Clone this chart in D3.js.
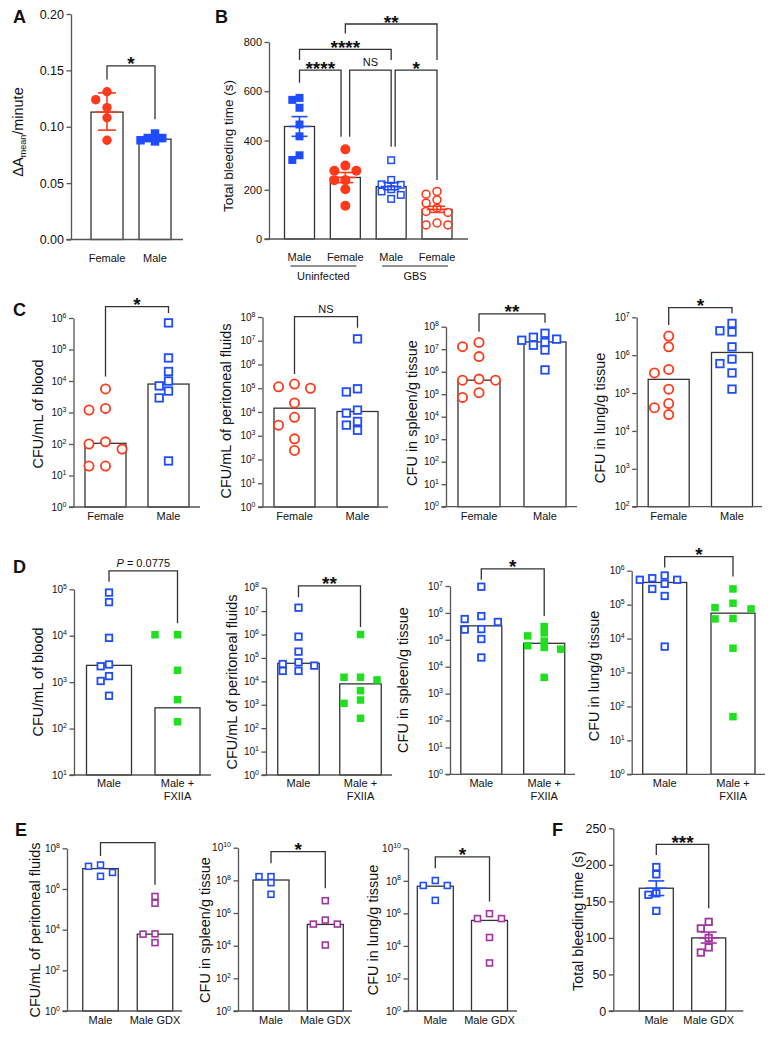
<!DOCTYPE html>
<html><head><meta charset="utf-8">
<script src="https://cdn.jsdelivr.net/npm/d3@7"></script>
<style>
body{margin:0;background:#fff}
svg{display:block}
text{font-family:"Liberation Sans",Arial,Helvetica,sans-serif;fill:#111}
</style>
</head><body>
<svg id="c" width="776" height="1037"></svg>
<script>
// ---------------- DATA ----------------
// Panel A
const catsA = ["Female","Male"];
const aFemale = [0.131,0.124,0.117,0.108,0.088];
const aMale = [0.094,0.090,0.090,0.088,0.087];
const aMean = [0.113,0.089];
const aSD = [[0.097,0.130],[0.087,0.091]];
const ticksA = [0,0.05,0.10,0.15,0.20];
// Panel B
const catsB = ["Male","Female","Male","Female"];
const groupsB = ["Uninfected","GBS"];
const bMaleUninf = [573,565,533,465,417,340,321];
const bFemaleUninf = [364,298,277,277,239,239,202,135];
const bMaleGBS = [320,240,222,220,202,193,179,163];
const bFemaleGBS = [193,182,159,146,125,112,108,65,57,57];
const bMean = [457,250,213,120];
const bSEM = [[417,497],[229,270],[200,229],[108,133]];
const ticksB = [0,200,400,600,800];
// Panel C
const catsC = ["Female","Male"];
const cBloodF = [5600,1350,1200,117,100,69,20,20];
const cBloodM = [700000,54000,20000,10000,7000,4800,2900,29];
const cBloodBar = [105,8000];
const cPeritF = [150000,115000,100000,24000,6000,2800,740,240];
const cPeritM = [12000000,95000,70000,12000,9000,4000,2800,1700];
const cPeritBar = [14500,10500];
const cSpleenF = [20000000,13000000,4700000,470000,420000,420000,117000,72000];
const cSpleenM = [51000000,34000000,28000000,25000000,20000000,15000000,9200000,1200000];
const cSpleenBar = [420000,21000000];
const cLungF = [3200000,1660000,420000,340000,127000,53000,41000,27000];
const cLungM = [6900000,4400000,4100000,1660000,790000,600000,340000,127000];
const cLungBar = [230000,1180000];
// Panel D
const catsD = ["Male","Male +|FXIIA"];
const dBloodM = [85000,53000,9000,2400,2200,1350,1060,510];
const dBloodFX = [10500,10500,1800,420,140];
const dBloodBar = [2300,280];
const dPeritM = [14000000,810000,186000,65000,55000,47000,28000,28000];
const dPeritFX = [1000000,15000,15000,11500,4000,1600,1150,265];
const dPeritBar = [59000,7800];
const dSpleenM = [9400000,760000,590000,460000,250000,240000,107000,22000];
const dSpleenFX = [310000,180000,140000,90000,60000,52000,45000,4000];
const dSpleenBar = [330000,74000];
const dLungM = [720000,600000,540000,540000,410000,290000,180000,5800];
const dLungFX = [290000,110000,82000,75000,39000,38000,5200,50];
const dLungBar = [450000,56000];
// Panel E
const catsE = ["Male","Male GDX"];
const ePeritM = [15000000,13000000,6500000,4200000];
const ePeritGDX = [430000,200000,6200,6000,2300];
const ePeritBar = [10000000,6000];
const eSpleenM = [170000000,170000000,72000000,14000000];
const eSpleenGDX = [5700000,370000,210000,210000,11000];
const eSpleenBar = [105000000,200000];
const eLungM = [105000000,52000000,52000000,6300000];
const eLungGDX = [960000,480000,480000,33000,900];
const eLungBar = [47000000,370000];
// Panel F
const catsF = ["Male","Male GDX"];
const fMale = [197,187,161,159,137];
const fGDX = [122,113,100,87,80];
const fMean = [168,100];
const fSEM = [[158,178],[93,108]];
const ticksF = [0,50,100,150,200,250];

// ---------------- STYLE ----------------
const RED="#ff3a1c", BLUE="#1f4cff", GREEN="#1fe01f", PURPLE="#a2349f";
const AXC="#555", BARC="#333";
const svg = d3.select("#c");

function swarm(vals, y, cx, vth, spacing){
  const placed=[];
  return vals.map(v=>{
    const py=y(v); let off=0;
    for(let i=0;i<30;i++){
      off = i===0?0:(i%2?-1:1)*Math.ceil(i/2)*spacing;
      if(!placed.some(p=>Math.abs(p.y-py)<vth && Math.abs(p.x-off)<spacing*0.95)) break;
    }
    placed.push({x:off,y:py});
    return {x:cx+off,y:py};
  });
}
function marker(g,m,cx,cy){
  const sw=m.sw||1.7;
  if(m.shape==="circle"){
    const r=m.fill?m.size/2:(m.size-sw)/2;
    g.append("circle").attr("cx",cx).attr("cy",cy).attr("r",r)
     .attr("fill",m.fill?m.color:"#fff").attr("stroke",m.fill?"none":m.color).attr("stroke-width",sw);
  } else {
    const s=m.fill?m.size:m.size-sw;
    g.append("rect").attr("x",cx-s/2).attr("y",cy-s/2).attr("width",s).attr("height",s)
     .attr("fill",m.fill?m.color:"#fff").attr("stroke",m.fill?"none":m.color).attr("stroke-width",sw);
  }
}

function panel(o){
  const g=svg.append("g");
  const y=(o.log?d3.scaleLog():d3.scaleLinear()).domain(o.domain).range([o.yBot,o.yTop]);
  const x=d3.scalePoint().domain(d3.range(o.cats.length)).range(o.centers);
  // bars
  o.bars.forEach((v,i)=>{
    g.append("rect").attr("x",x(i)-o.barW/2).attr("y",y(v)).attr("width",o.barW)
     .attr("height",o.yBot-y(v)).attr("fill","#fff").attr("stroke",BARC).attr("stroke-width",1.3);
  });
  // points
  o.series.forEach((s,i)=>{
    const sp=(s.spread||o.spread||1.5);
    const pts=swarm(s.vals,y,x(i),s.m.size*(s.vth||0.8),s.m.size*sp);
    pts.forEach(p=>marker(g,s.m,p.x,p.y));
  });
  // error bars
  if(o.err){
    o.err.forEach((e,i)=>{
      const c=o.errColors[i], cx=x(i), w=o.capW||8;
      const eg=g.append("g").attr("stroke",c).attr("stroke-width",1.6).attr("fill","none");
      eg.append("line").attr("x1",cx).attr("x2",cx).attr("y1",y(e[0])).attr("y2",y(e[1]));
      eg.append("line").attr("x1",cx-w).attr("x2",cx+w).attr("y1",y(e[0])).attr("y2",y(e[0]));
      eg.append("line").attr("x1",cx-w).attr("x2",cx+w).attr("y1",y(e[1])).attr("y2",y(e[1]));
      eg.append("line").attr("x1",cx-w*1.3).attr("x2",cx+w*1.3).attr("y1",y(o.bars[i])).attr("y2",y(o.bars[i]));
    });
  }
  // y axis
  const ya=d3.axisLeft(y).tickValues(o.ticks).tickSize(4.5).tickSizeOuter(0).tickPadding(2.5);
  if(o.fmt) ya.tickFormat(o.fmt);
  const gy=g.append("g").attr("transform",`translate(${o.ax},0)`).call(ya);
  gy.select(".domain").attr("stroke",AXC).attr("stroke-width",1.3);
  gy.selectAll(".tick line").attr("stroke",AXC).attr("stroke-width",1.3);
  gy.selectAll(".tick text").attr("font-size",o.tickFs).attr("fill","#111")
    .style("font-family",'"Liberation Sans",Arial,sans-serif');
  if(o.log){
    gy.selectAll(".tick text").each(function(d){
      const e=Math.round(Math.log10(d)); const t=d3.select(this); t.text(null);
      t.append("tspan").text("10");
      t.append("tspan").attr("font-size",o.tickFs*0.7).attr("dy",-o.tickFs*0.42).text(e);
    });
  }
  // x axis line
  g.append("line").attr("x1",o.ax-4.5).attr("x2",o.axEnd).attr("y1",o.yBot).attr("y2",o.yBot)
   .attr("stroke",AXC).attr("stroke-width",1.3);
  // x labels
  o.cats.forEach((c,i)=>{
    c.split("|").forEach((line,k)=>{
      g.append("text").attr("x",x(i)).attr("y",o.xlabY+k*13).attr("text-anchor","middle")
       .attr("font-size",11).text(line);
    });
  });
  // y label
  if(o.ylab){
    const t=g.append("text").attr("transform",`translate(${o.ylab.x},${o.ylab.y}) rotate(-90)`)
      .attr("text-anchor","middle").attr("dy","0.35em").attr("font-size",o.ylab.fs||14.5);
    if(o.ylab.parts){
      o.ylab.parts.forEach(p=>t.append("tspan").attr("font-size",p.fs||null).attr("dy",p.dy||0).text(p.t));
    } else t.text(o.ylab.t);
  }
  // brackets
  (o.brackets||[]).forEach(b=>{
    const xa=x(b.a)+(b.dxa||0), xb=x(b.b)+(b.dxb||0), yy=y(b.y);
    g.append("path").attr("d",`M${xa},${y(b.la)}V${yy}H${xb}V${y(b.lb)}`)
     .attr("fill","none").attr("stroke","#333").attr("stroke-width",1.3);
    if(b.text){
      const stars=/^\*+$/.test(b.text);
      const t=g.append("text").attr("x",(xa+xb)/2).attr("y",stars?yy+4.5:yy-4)
        .attr("text-anchor","middle").attr("font-size",stars?19:11)
        .attr("font-weight",stars?700:400);
      if(b.text.startsWith("P ")){
        t.append("tspan").attr("font-style","italic").text("P");
        t.append("tspan").text(b.text.slice(1));
      } else t.text(b.text);
    }
  });
  // panel letter
  if(o.letter){
    svg.append("text").attr("x",o.letter.x).attr("y",o.letter.y).attr("font-size",18)
      .attr("font-weight",900).text(o.letter.t);
  }
  return {g,x,y};
}

const OC_RED={shape:"circle",fill:false,color:RED,size:11,sw:1.8};
const OS_BLUE_C={shape:"square",fill:false,color:BLUE,size:9.3,sw:1.8};
const OS_BLUE_D={shape:"square",fill:false,color:BLUE,size:8.3,sw:1.8};
const FS_GREEN={shape:"square",fill:true,color:GREEN,size:7.5};
const OS_BLUE_E={shape:"square",fill:false,color:BLUE,size:7.5,sw:1.6};
const OS_PURP_E={shape:"square",fill:false,color:PURPLE,size:7.5,sw:1.6};

// ---------------- PANEL A ----------------
panel({
  ax:71,axEnd:183,yTop:14,yBot:239.5,domain:[0,0.2],ticks:ticksA,fmt:d3.format(".2f"),tickFs:12.5,
  cats:catsA,centers:[107,155],barW:32,bars:aMean,
  series:[{vals:aFemale,spread:1.2,vth:1.0,m:{shape:"circle",fill:true,color:RED,size:9.4}},
          {vals:aMale,spread:0.85,m:{shape:"square",fill:true,color:BLUE,size:8.5}}],
  err:aSD,errColors:[RED,BLUE],capW:9,
  xlabY:262,
  ylab:{x:23,y:132,parts:[{t:"ΔA"},{t:"mean",fs:9,dy:3},{t:"/minute",dy:-3}]},
  brackets:[{a:0,b:1,y:0.154,la:0.142,lb:0.1066,text:"*"}],
  letter:{t:"A",x:13,y:23}
});

// ---------------- PANEL B ----------------
const pB = panel({
  ax:269,axEnd:468,yTop:42,yBot:239,domain:[0,800],ticks:ticksB,fmt:d3.format("d"),tickFs:11,
  cats:catsB,centers:[299.5,437],barW:30,bars:bMean,
  series:[{vals:bMaleUninf,spread:0.9,m:{shape:"square",fill:true,color:BLUE,size:8}},
          {vals:bFemaleUninf,spread:1.1,m:{shape:"circle",fill:true,color:RED,size:10}},
          {vals:bMaleGBS,spread:1.2,m:{shape:"square",fill:false,color:BLUE,size:8,sw:1.5}},
          {vals:bFemaleGBS,spread:1.15,m:{shape:"circle",fill:false,color:RED,size:9.5,sw:1.6}}],
  err:bSEM,errColors:[BLUE,RED,BLUE,RED],capW:8,
  xlabY:261,
  ylab:{x:228,y:146,t:"Total bleeding time (s)",fs:13.5},
  brackets:[
    {a:0,b:1,y:686,la:635,lb:415,text:"****",dxb:-4.3},
    {a:1,b:2,y:686,la:415,lb:375,text:"NS",dxa:4.3},
    {a:2,b:3,y:686,la:375,lb:240,text:"*",dxa:4},
    {a:0,b:2,y:770,la:727,lb:727,text:"****"},
    {a:1,b:3,y:873,la:835,lb:727,text:"**"}
  ],
  letter:{t:"B",x:215,y:23}
});
// group underline + labels for B
[[0,1],[2,3]].forEach((pr,k)=>{
  const x0=pB.x(pr[0])-9, x1=pB.x(pr[1])+11;
  pB.g.append("line").attr("x1",x0).attr("x2",x1).attr("y1",266).attr("y2",266).attr("stroke","#222").attr("stroke-width",1.2);
  pB.g.append("text").attr("x",(x0+x1)/2).attr("y",280).attr("text-anchor","middle").attr("font-size",11).text(groupsB[k]);
});

// ---------------- PANEL C ----------------
panel({ax:73.5,axEnd:200,yTop:318,yBot:507,log:true,domain:[1,1e6],ticks:d3.range(0,7).map(e=>10**e),tickFs:10,
  cats:catsC,centers:[105.5,168.5],barW:41,bars:cBloodBar,spread:1.5,
  series:[{vals:cBloodF,m:OC_RED},{vals:cBloodM,spread:1.0,m:OS_BLUE_C}],xlabY:520,
  ylab:{x:38,y:414,t:"CFU/mL of blood"},
  brackets:[{a:0,b:1,y:2.3e6,la:1.4e4,lb:1.45e6,text:"*"}],
  letter:{t:"C",x:13,y:316}});
panel({ax:262.5,axEnd:388,yTop:317,yBot:507,log:true,domain:[1,1e8],ticks:d3.range(0,9).map(e=>10**e),tickFs:10,
  cats:catsC,centers:[294.5,357.5],barW:41,bars:cPeritBar,spread:1.45,
  series:[{vals:cPeritF,m:OC_RED},{vals:cPeritM,spread:1.2,m:OS_BLUE_C}],xlabY:520,
  ylab:{x:226,y:411,t:"CFU/mL of peritoneal fluids"},
  brackets:[{a:0,b:1,y:1.03e8,la:4e5,lb:3.5e7,text:"NS"}]});
panel({ax:446,axEnd:577,yTop:326.7,yBot:506.7,log:true,domain:[1,1e8],ticks:d3.range(0,9).map(e=>10**e),tickFs:10,
  cats:catsC,centers:[479,545],barW:42,bars:cSpleenBar,spread:1.5,
  series:[{vals:cSpleenF,m:OC_RED},{vals:cSpleenM,spread:1.25,m:OS_BLUE_C}],xlabY:520,
  ylab:{x:412,y:413,t:"CFU in spleen/g tissue"},
  brackets:[{a:0,b:1,y:3.7e8,la:6e7,lb:1.5e8,text:"**"}]});
panel({ax:636.7,axEnd:762,yTop:317.3,yBot:506.7,log:true,domain:[1e2,1e7],ticks:d3.range(2,8).map(e=>10**e),tickFs:10,
  cats:catsC,centers:[668.7,732],barW:41,bars:cLungBar,spread:1.3,
  series:[{vals:cLungF,m:OC_RED},{vals:cLungM,spread:1.3,m:OS_BLUE_C}],xlabY:520,
  ylab:{x:600,y:418,t:"CFU in lung/g tissue"},
  brackets:[{a:0,b:1,y:1.8e7,la:6.3e6,lb:1.27e7,text:"*"}]});

// ---------------- PANEL D ----------------
panel({ax:74,axEnd:211,yTop:589.3,yBot:775,log:true,domain:[10,1e5],ticks:d3.range(1,6).map(e=>10**e),tickFs:10,
  cats:catsD,centers:[109,177.5],barW:45,bars:dBloodBar,
  series:[{vals:dBloodM,spread:1.0,m:OS_BLUE_D},{vals:dBloodFX,spread:3.0,m:FS_GREEN}],xlabY:787,
  ylab:{x:38,y:682,t:"CFU/mL of blood"},
  brackets:[{a:0,b:1,y:2.5e5,la:1.45e5,lb:1.85e4,text:"P = 0.0775"}],
  letter:{t:"D",x:13,y:573}});
panel({ax:266,axEnd:392,yTop:587.7,yBot:775,log:true,domain:[1,1e8],ticks:d3.range(0,9).map(e=>10**e),tickFs:10,
  cats:catsD,centers:[298.5,360.5],barW:41.5,bars:dPeritBar,
  series:[{vals:dPeritM,spread:1.9,m:OS_BLUE_D},{vals:dPeritFX,spread:2.2,m:FS_GREEN}],xlabY:787,
  ylab:{x:232,y:682,t:"CFU/mL of peritoneal fluids"},
  brackets:[{a:0,b:1,y:1.2e8,la:3.9e7,lb:2.1e6,text:"**"}]});
panel({ax:450,axEnd:575,yTop:586,yBot:774.3,log:true,domain:[1,1e7],ticks:d3.range(0,8).map(e=>10**e),tickFs:10,
  cats:catsD,centers:[481.3,544.2],barW:41,bars:dSpleenBar,
  series:[{vals:dSpleenM,spread:2.0,m:OS_BLUE_D},{vals:dSpleenFX,spread:2.2,m:FS_GREEN}],xlabY:787,
  ylab:{x:403,y:680,t:"CFU in spleen/g tissue"},
  brackets:[{a:0,b:1,y:4.3e7,la:1.7e7,lb:7.6e5,text:"*"}]});
panel({ax:631.7,axEnd:765,yTop:570.7,yBot:774.3,log:true,domain:[1,1e6],ticks:d3.range(0,7).map(e=>10**e),tickFs:10,
  cats:catsD,centers:[664.7,733],barW:44,bars:dLungBar,
  series:[{vals:dLungM,spread:1.5,m:OS_BLUE_D},{vals:dLungFX,spread:2.4,m:FS_GREEN}],xlabY:787,
  ylab:{x:594,y:676,t:"CFU in lung/g tissue"},
  brackets:[{a:0,b:1,y:2.6e6,la:1.25e6,lb:6.7e5,text:"*"}]});

// ---------------- PANEL E ----------------
panel({ax:67,axEnd:182,yTop:848.3,yBot:1011,log:true,domain:[1,1e8],ticks:[0,2,4,6,8].map(e=>10**e),tickFs:10,
  cats:catsE,centers:[100.5,155],barW:35.5,bars:ePeritBar,spread:1.6,
  series:[{vals:ePeritM,vth:1.1,m:OS_BLUE_E},{vals:ePeritGDX,m:OS_PURP_E}],xlabY:1024,
  ylab:{x:35,y:930,t:"CFU/mL of peritoneal fluids"},
  brackets:[{a:0,b:1,y:1.9e8,la:4.2e7,lb:1.6e6,text:""}],
  letter:{t:"E",x:15,y:836}});
panel({ax:238,axEnd:352,yTop:847.7,yBot:1011,log:true,domain:[1,1e10],ticks:[0,2,4,6,8,10].map(e=>10**e),tickFs:10,
  cats:catsE,centers:[271,325.3],barW:36,bars:eSpleenBar,spread:1.6,
  series:[{vals:eSpleenM,m:OS_BLUE_E},{vals:eSpleenGDX,m:OS_PURP_E}],xlabY:1024,
  ylab:{x:205,y:930,t:"CFU in spleen/g tissue"},
  brackets:[{a:0,b:1,y:5.7e9,la:1.1e9,lb:3.3e7,text:"*"}]});
panel({ax:408,axEnd:517,yTop:848.3,yBot:1011,log:true,domain:[1,1e10],ticks:[0,2,4,6,8,10].map(e=>10**e),tickFs:10,
  cats:catsE,centers:[435.3,489.5],barW:36,bars:eLungBar,spread:1.6,
  series:[{vals:eLungM,m:OS_BLUE_E},{vals:eLungGDX,m:OS_PURP_E}],xlabY:1024,
  ylab:{x:373,y:930,t:"CFU in lung/g tissue"},
  brackets:[{a:0,b:1,y:3e9,la:5.9e8,lb:5.3e6,text:"*"}]});

// ---------------- PANEL F ----------------
panel({ax:613.3,axEnd:743.3,yTop:828.3,yBot:1011,domain:[0,250],ticks:ticksF,fmt:d3.format("d"),tickFs:12.5,
  cats:catsF,centers:[656.3,708.7],barW:34,bars:fMean,spread:0.95,
  series:[{vals:fMale,m:{shape:"square",fill:false,color:BLUE,size:8.3,sw:1.8}},
          {vals:fGDX,m:{shape:"square",fill:false,color:PURPLE,size:8.3,sw:1.8}}],
  err:fSEM,errColors:[BLUE,PURPLE],capW:8,
  xlabY:1024,
  ylab:{x:578,y:921,t:"Total bleeding time (s)",fs:14.3},
  brackets:[{a:0,b:1,y:228,la:213.5,lb:140.5,text:"***"}],
  letter:{t:"F",x:552,y:836}});
</script>
</body></html>
